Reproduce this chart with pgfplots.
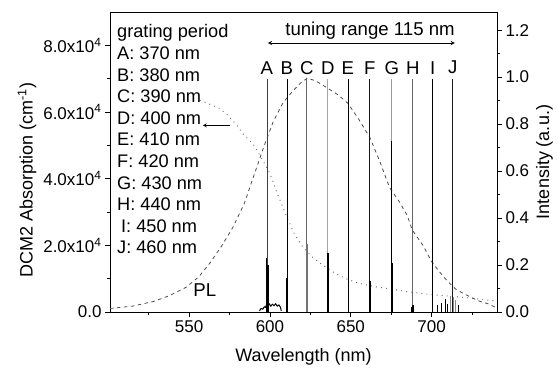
\documentclass[border=0pt]{standalone}
\usepackage{fontspec}
\setmainfont{Liberation Sans}
\usepackage{pgfplots}
\pgfplotsset{compat=1.18}
\begin{document}
\begin{tikzpicture}[font=\fontsize{17}{20}\selectfont, >=stealth]
\begin{axis}[
  name=main,
  scale only axis, width=387pt, height=300pt,
  xmin=501, xmax=740.5, ymin=0, ymax=9e4,
  tick pos=left, tick align=outside,
  axis line style={line width=0.8pt},
  every tick/.style={black, line width=0.8pt},
  major tick length=5pt, minor tick length=3pt,
  xtick={550,600,650,700}, xticklabels={550,600,650,700},
  minor xtick={525,575,625,675,725},
  ytick={0,2e4,4e4,6e4,8e4},
  yticklabels={0.0,2.0x10\textsuperscript{4},4.0x10\textsuperscript{4},6.0x10\textsuperscript{4},8.0x10\textsuperscript{4}},
  minor ytick={1e4,3e4,5e4,7e4},
  scaled y ticks=false, scaled x ticks=false,
  xlabel={Wavelength (nm)},
  xlabel style={font=\fontsize{18}{20}\selectfont, yshift=-9pt},
  ylabel={DCM2 Absorption (cm\textsuperscript{-1})},
  every axis y label/.style={at={(ticklabel cs:0.44)}, rotate=90, anchor=south, font=\fontsize{18}{20}\selectfont},
  clip=false,
]
\addplot[black!60, line width=0.9pt, dash pattern=on 0.9pt off 4.2pt] coordinates {
(556.6,6.35e4)(562,6.25e4)(569,6.1e4)(574,5.9e4)(579.5,5.6e4)(584,5.3e4)(589.5,5.05e4)
(595,4.6e4)(600,4.15e4)(605,3.5e4)(610,2.9e4)(615,2.35e4)(620,1.98e4)(625,1.7e4)
(632,1.43e4)(640,1.17e4)(647,1.0e4)(655,0.86e4)(665,0.76e4)(675,0.69e4)(685,0.61e4)
(695,0.55e4)(703,0.51e4)(715,0.46e4)(724,0.42e4)(732,0.37e4)(740.5,0.33e4)};
\draw[->, line width=0.7pt] (axis cs:575,5.6e4) -- (axis cs:558.5,5.6e4);
\node[anchor=north west, align=left, inner sep=0pt, font=\fontsize{18.2}{21.6}\selectfont]
  at (rel axis cs:0.018,0.958)
  {grating period\\A: 370 nm\\B: 380 nm\\C: 390 nm\\D: 400 nm\\E: 410 nm\\F: 420 nm\\G: 430 nm\\H: 440 nm\\\hspace{4pt}I: 450 nm\\J: 460 nm};
\end{axis}
\begin{axis}[
  scale only axis, width=387pt, height=300pt,
  xmin=501, xmax=740.5, ymin=0, ymax=1.277,
  axis x line=none, axis y line*=right, tick align=outside,
  axis line style={line width=0.8pt},
  every tick/.style={black, line width=0.8pt},
  major tick length=5pt, minor tick length=3pt,
  ytick={0,0.2,0.4,0.6,0.8,1.0,1.2},
  yticklabels={0.0,0.2,0.4,0.6,0.8,1.0,1.2},
  minor ytick={0.1,0.3,0.5,0.7,0.9,1.1},
  ylabel={Intensity (a.u.)},
  ylabel style={font=\fontsize{18}{20}\selectfont},
  clip=false,
]
% PL spectrum
\addplot[black!70, line width=0.8pt, dash pattern=on 3.5pt off 3.5pt] coordinates {
(501,0.015)(515,0.025)(528,0.045)(538,0.07)(548,0.105)(556,0.15)(563,0.21)(570,0.28)
(577,0.36)(584,0.46)(590,0.58)(596,0.70)(602,0.81)(608,0.89)(614,0.94)(619,0.975)
(623,0.995)(628,0.985)(634,0.96)(642,0.925)(648,0.89)(655,0.82)(662,0.74)(668,0.64)
(674,0.53)(680,0.47)(685,0.41)(688,0.35)(692,0.31)(695,0.28)(700,0.215)(705,0.17)
(710,0.13)(715,0.097)(720,0.078)(724,0.064)(730,0.045)(735,0.035)(740.5,0.017)};
% lasing lines
\addplot[ycomb, no marks, black!75, line width=0.7pt] coordinates {(598.1,0.99)};
\addplot[ycomb, no marks, black, line width=0.7pt] coordinates {(610.5,0.99)};
\addplot[ycomb, no marks, black!60, line width=0.7pt] coordinates {(622.8,0.99)};
\addplot[ycomb, no marks, black!35, line width=0.7pt] coordinates {(635.8,0.99)};
\addplot[ycomb, no marks, black, line width=0.7pt] coordinates {(648.2,0.99)};
\addplot[ycomb, no marks, black!90, line width=0.7pt] coordinates {(661.8,0.99)};
\addplot[ycomb, no marks, black!40, line width=0.7pt] coordinates {(675.4,0.99)};
\addplot[ycomb, no marks, black, line width=0.7pt] coordinates {(675.4,0.73)};
\addplot[ycomb, no marks, black!60, line width=1pt] coordinates {(688.4,0.99)};
\addplot[ycomb, no marks, black, line width=1pt] coordinates {(700.7,0.99)};
\addplot[ycomb, no marks, black!90, line width=0.7pt] coordinates {(713.1,0.99)};
% strong spikes
\addplot[ycomb, no marks, black, line width=1.3pt] coordinates {
(598.0,0.23)(598.7,0.20)(610.6,0.145)(635.9,0.25)(661.9,0.13)(675.5,0.21)(688.5,0.03)(687.5,0.02)};
\addplot[ycomb, no marks, black!55, line width=1.3pt] coordinates {(622.9,0.29)};
% noise near A
\addplot[black, line width=1pt, no marks] coordinates {
(593.5,0.005)(594.5,0.015)(595.5,0.012)(596.5,0.022)(597.2,0.02)(597.8,0.03)(598.8,0.028)
(599.5,0.035)(600.5,0.025)(601.5,0.033)(602.5,0.027)(603.5,0.035)(604.5,0.025)(605.5,0.03)
(606.5,0.02)(607,0.005)};
% noise near J
\addplot[ycomb, no marks, black, line width=1pt] coordinates {
(703.5,0.03)(706,0.04)(708.5,0.055)(710,0.035)(716.5,0.03)};
\addplot[ycomb, no marks, black!45, line width=1.2pt] coordinates {
(711.5,0.07)(713.6,0.065)(715,0.05)};
% letters
\foreach \l/\x in {A/598.1,B/610.5,C/622.8,D/635.8,E/648.2,F/661.8,G/675.4,H/688.4,I/700.7,J/713.1}{
  \edef\tmp{\noexpand\node[inner sep=0pt, font=\noexpand\fontsize{18.6}{20}\noexpand\selectfont] at (axis cs:\x,1.04) {\l};}\tmp
}
\draw[<->, line width=0.9pt] (axis cs:598.7,1.145) -- (axis cs:714.4,1.145);
\node[anchor=base east, inner sep=0pt, font=\fontsize{18.6}{20}\selectfont] at (axis cs:714.4,1.175) {tuning range 115 nm};
\node[inner sep=0pt, font=\fontsize{18.6}{20}\selectfont] at (axis cs:559.7,0.094) {PL};
\end{axis}
\path (main.south west) ++(-110pt,-57pt) coordinate (bb1);
\path (main.north east) ++(60pt,12pt) coordinate (bb2);
\useasboundingbox (bb1) rectangle (bb2);
\end{tikzpicture}
\end{document}
